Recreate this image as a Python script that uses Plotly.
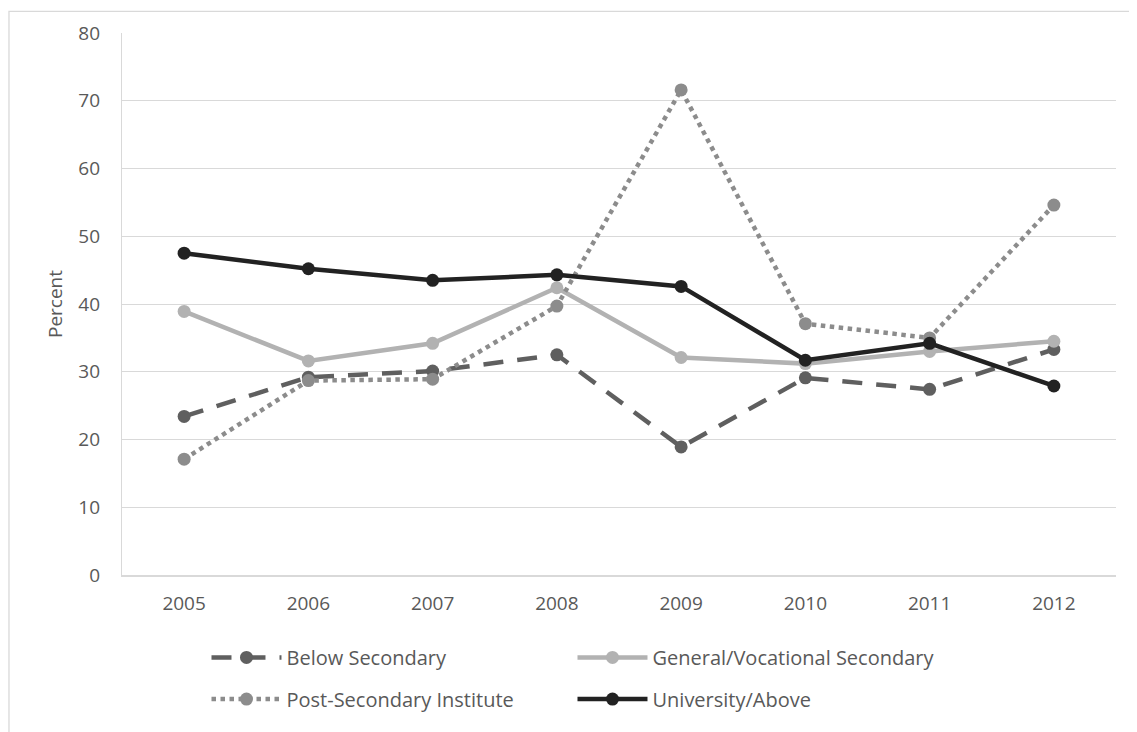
import plotly.graph_objects as go

years = ['2005', '2006', '2007', '2008', '2009', '2010', '2011', '2012']
below_secondary = [23.4, 29.2, 30.1, 32.5, 18.9, 29.1, 27.4, 33.3]
general_vocational = [38.9, 31.6, 34.2, 42.4, 32.1, 31.2, 33.0, 34.5]
post_secondary = [17.1, 28.7, 28.9, 39.7, 71.6, 37.1, 35.0, 54.6]
university = [47.5, 45.2, 43.5, 44.3, 42.6, 31.7, 34.2, 27.9]

FONT = 'Open Sans'
TXT = '#595959'
FS = 19

fig = go.Figure()

# legend row 1
fig.add_trace(go.Scatter(x=years, y=below_secondary, name='Below Secondary', mode='lines+markers',
                         line=dict(color='#5f5f5f', width=4.5, dash='20px,14px'),
                         marker=dict(size=13, color='#5f5f5f'), legend='legend'))
fig.add_trace(go.Scatter(x=years, y=general_vocational, name='General/Vocational Secondary', mode='lines+markers',
                         line=dict(color='#b2b2b2', width=4.5),
                         marker=dict(size=13, color='#b2b2b2'), legend='legend'))
# legend row 2
fig.add_trace(go.Scatter(x=years, y=post_secondary, name='Post-Secondary Institute', mode='lines+markers',
                         line=dict(color='#8c8c8c', width=4.5, dash='4.5px,4.5px'),
                         marker=dict(size=13, color='#8c8c8c'), legend='legend2'))
fig.add_trace(go.Scatter(x=years, y=university, name='University/Above', mode='lines+markers',
                         line=dict(color='#222222', width=4.5),
                         marker=dict(size=13, color='#222222'), legend='legend2'))

leg = dict(orientation='h', xanchor='left', yanchor='middle', x=0.085,
           font=dict(family=FONT, size=20, color=TXT), entrywidth=281, entrywidthmode='pixels',
           itemwidth=70, bgcolor='rgba(0,0,0,0)')

# page body has an 8px margin, so margins are shifted to keep the plot area in place
fig.update_layout(
    width=1137, height=732,
    margin=dict(l=114, r=29, t=23, b=165),
    plot_bgcolor='white', paper_bgcolor='white',
    font=dict(family=FONT, size=FS, color=TXT),
    legend=dict(leg, y=-0.152),
    legend2=dict(leg, y=-0.229),
    xaxis=dict(type='category', range=[-0.5, 7.5], showgrid=False, showline=True,
               linecolor='#d9d9d9', linewidth=1.5, ticks='', ticklabelstandoff=10,
               tickfont=dict(size=FS, color=TXT)),
    yaxis=dict(range=[0, 80], dtick=10, showgrid=True, gridcolor='#d9d9d9', gridwidth=1.3,
               showline=True, linecolor='#d9d9d9', linewidth=1.3, zeroline=False, ticks='',
               ticklabelstandoff=17, tickfont=dict(size=FS, color=TXT),
               title=dict(text='Percent', font=dict(size=FS, color=TXT), standoff=10)),
    shapes=[dict(type='rect', xref='paper', yref='paper', x0=-0.1137, x1=1.03, y0=-0.35, y1=1.040,
                 line=dict(color='#d9d9d9', width=1.3), layer='below')],
)

fig.write_html("out.html")
